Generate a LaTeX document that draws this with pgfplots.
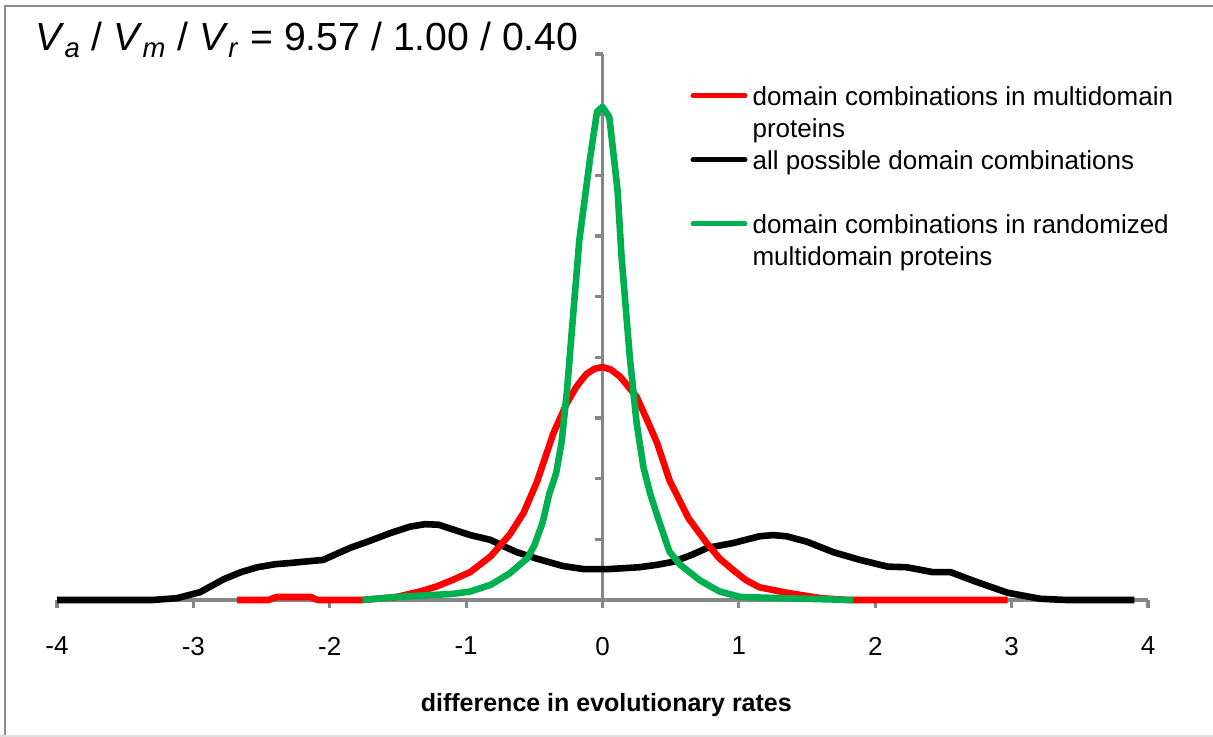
\documentclass[border=0pt]{standalone}
\usepackage{fontspec}
\setmainfont{Liberation Sans}
\usepackage{pgfplots}
\pgfplotsset{compat=1.18}
\definecolor{axgray}{RGB}{134,134,134}
\definecolor{cred}{RGB}{255,0,0}
\definecolor{cgreen}{RGB}{0,176,80}
\begin{document}
\begin{tikzpicture}
\useasboundingbox (0,0) rectangle (606.5pt,368.5pt);
\fill[white] (0,0) rectangle (606.5pt,368.5pt);
\draw[gray!90, line width=1pt] (2.25pt,0) -- (2.25pt,365.5pt) -- (606.5pt,365.5pt);
\draw[gray!25, line width=1pt] (0,0.5pt) -- (606.5pt,0.5pt);
\begin{axis}[
  at={(28.5pt,68.5pt)}, anchor=south west,
  scale only axis, width=545.5pt, height=273pt,
  xmin=-4, xmax=4, ymin=0, ymax=9,
  axis lines=middle,
  axis line style={axgray, line width=1.6pt, -},
  every inner x axis line/.append style={-},
  every inner y axis line/.append style={-},
  clip=false,
  xtick={-4,-3,...,4},
  xticklabels={-4,-3,-2,-1,0,1,2,3,4},
  ytick={1,...,9}, yticklabels={},
  hide obscured x ticks=false,
  tick align=outside,
  major tick length=4pt,
  tick style={axgray, line width=1.6pt},
  tick label style={font=\fontsize{13}{15}\selectfont},
  xticklabel style={yshift=-11pt},
  title={\textit{V}\textsubscript{\textit{a}} / \textit{V}\textsubscript{\textit{m}} / \textit{V}\textsubscript{\textit{r}} = 9.57 / 1.00 / 0.40},
  title style={at={(axis description cs:-0.0202,0.9835)}, anchor=base west, inner sep=0pt, font=\fontsize{19.6}{23}\selectfont},
  xlabel={difference in evolutionary rates},
  xlabel style={at={(axis description cs:0.5035,0)}, anchor=center, yshift=-52.5pt, font=\bfseries\fontsize{12.5}{15}\selectfont},
  legend image code/.code={\draw[#1] (0pt,5pt) -- (26pt,5pt);},
  legend style={at={(axis description cs:0.5807,0.9451)}, anchor=north west, draw=none, fill=none, inner sep=0pt, outer sep=0pt, row sep=0pt, column sep=2.5pt,
    nodes={inner sep=0pt, text height=11pt, text depth=5pt, font=\fontsize{13}{15}\selectfont},
    cells={anchor=base west}},
]
\addplot[black, line width=3.3pt, line join=round, forget plot] coordinates {
(-4,0) (-3.30,0) (-3.12,0.03) (-2.95,0.13) (-2.78,0.34) (-2.65,0.46) (-2.53,0.54) (-2.40,0.59) (-2.29,0.61) (-2.15,0.64) (-2.05,0.66) (-1.95,0.76) (-1.85,0.86) (-1.70,0.98) (-1.56,1.10) (-1.41,1.21) (-1.30,1.25) (-1.20,1.24) (-1.12,1.18) (-0.97,1.07) (-0.82,0.99) (-0.72,0.88) (-0.63,0.79) (-0.48,0.68) (-0.29,0.56) (-0.14,0.51) (0.05,0.51) (0.27,0.54) (0.40,0.58) (0.52,0.63) (0.65,0.74) (0.77,0.86) (0.96,0.94) (1.15,1.05) (1.25,1.07) (1.35,1.05) (1.50,0.96) (1.69,0.79) (1.89,0.66) (2.09,0.55) (2.23,0.54) (2.42,0.46) (2.55,0.46) (2.74,0.30) (2.97,0.12) (3.21,0.02) (3.40,0) (3.90,0)
};
\addplot[cred, line width=3.3pt, line join=round, forget plot] coordinates {
(-2.68,0) (-2.45,0) (-2.39,0.05) (-2.14,0.05) (-2.09,0) (-1.76,0) (-1.51,0.05) (-1.34,0.14) (-1.22,0.22) (-1.10,0.33) (-0.97,0.46) (-0.82,0.72) (-0.68,1.08) (-0.58,1.43) (-0.48,1.95) (-0.36,2.75) (-0.26,3.25) (-0.19,3.52) (-0.12,3.72) (-0.06,3.81) (0.00,3.84) (0.06,3.80) (0.13,3.68) (0.25,3.35) (0.33,2.95) (0.40,2.59) (0.49,1.98) (0.63,1.35) (0.77,0.92) (0.86,0.68) (0.96,0.49) (1.05,0.33) (1.15,0.21) (1.35,0.12) (1.60,0.03) (1.80,0) (2.97,0)
};
\addplot[cgreen, line width=3.3pt, line join=round, forget plot] coordinates {
(-1.76,0) (-1.51,0.05) (-1.27,0.08) (-1.10,0.10) (-0.97,0.14) (-0.82,0.25) (-0.68,0.44) (-0.55,0.69) (-0.50,0.90) (-0.44,1.27) (-0.39,1.75) (-0.34,2.09) (-0.30,2.6) (-0.26,3.46) (-0.22,4.57) (-0.17,5.93) (-0.09,7.30) (-0.04,8.05) (0.00,8.13) (0.05,7.96) (0.11,6.76) (0.14,5.65) (0.20,4.01) (0.25,2.92) (0.30,2.19) (0.35,1.75) (0.40,1.40) (0.49,0.80) (0.57,0.58) (0.66,0.42) (0.71,0.33) (0.81,0.20) (0.86,0.14) (1.01,0.05) (1.32,0.03) (1.84,0)
};
\addlegendimage{cred, line width=2.5pt, line cap=round}
\addlegendentry{domain combinations in multidomain}
\addlegendimage{empty legend}
\addlegendentry{proteins}
\addlegendimage{black, line width=2.5pt, line cap=round}
\addlegendentry{all possible domain combinations}
\addlegendimage{empty legend}
\addlegendentry{\mbox{}}
\addlegendimage{cgreen, line width=2.5pt, line cap=round}
\addlegendentry{domain combinations in randomized}
\addlegendimage{empty legend}
\addlegendentry{multidomain proteins}
\end{axis}
\end{tikzpicture}
\end{document}
